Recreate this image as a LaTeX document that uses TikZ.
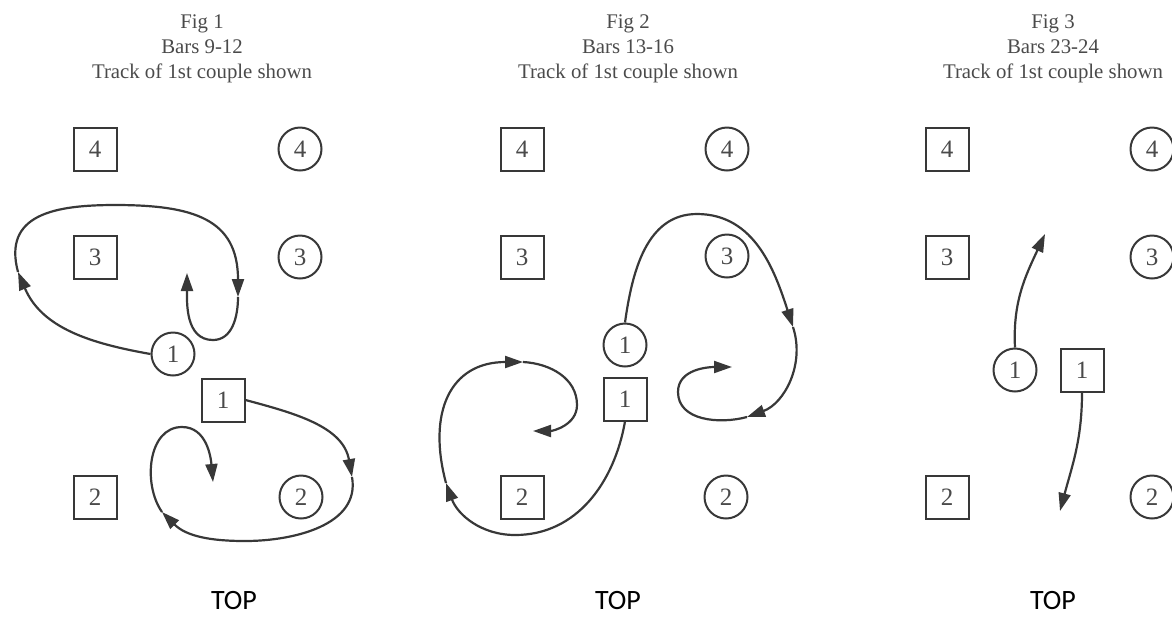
\documentclass[tikz,border=0pt]{standalone}
\usepackage{fontspec}
\setmainfont{Liberation Serif}
\newfontfamily\topfont{Carlito}
\usepackage{tikz}
\usetikzlibrary{arrows.meta,positioning}
\definecolor{ink}{HTML}{383838}
\definecolor{print}{HTML}{4A4A4A}
\tikzset{style={>={Triangle[length=9pt,width=6pt]}}}
\tikzset{man/.style={rectangle,fill=white,draw=ink,text=print,line width=1pt,minimum size=21.5pt,inner sep=0mm,font=\fontsize{12.5}{14}\selectfont}}
\tikzset{lady/.style={circle,     fill=white,draw=ink,text=print,line width=1pt,minimum size=21.5pt,inner sep=0mm,font=\fontsize{12.5}{14}\selectfont}}
\tikzset{caption/.style={align=center,text=print,font=\fontsize{10.4}{12.5}\selectfont}}
\tikzset{toplabel/.style={anchor=base,inner sep=0mm,text=black,font=\topfont\fontsize{14}{16}\selectfont}}
\tikzset{track/.style={draw=ink,line width=1.1pt,->}}

\begin{document}
\begin{tikzpicture}[x=0.5pt,y=0.5pt]
    \useasboundingbox (0,0) rectangle (1172,-618);

    \node[caption]  (t1)  at (202,-49)  {Fig 1\\Bars 9-12\\Track of 1st couple shown};
    \node[caption]  (t2)  at (628,-49)  {Fig 2\\Bars 13-16\\Track of 1st couple shown};
    \node[caption]  (t3)  at (1053,-49) {Fig 3\\Bars 23-24\\Track of 1st couple shown};

    \node[man]  (m4a) at (95,-149)  {4};
    \node[lady] (l4a) at (300,-149) {4};
    \node[man]  (m3a) at (95,-257)  {3};
    \node[lady] (l3a) at (300,-257) {3};
    \node[lady] (l1a) at (173,-354) {1};
    \node[man]  (m1a) at (223,-400) {1};
    \node[man]  (m2a) at (95,-497)  {2};
    \node[lady] (l2a) at (301,-497) {2};

    \node[man]  (m4b) at (522,-149) {4};
    \node[lady] (l4b) at (727,-149) {4};
    \node[man]  (m3b) at (522,-257) {3};
    \node[lady] (l3b) at (727,-256) {3};
    \node[lady] (l1b) at (625,-345) {1};
    \node[man]  (m1b) at (625,-399) {1};
    \node[man]  (m2b) at (522,-497) {2};
    \node[lady] (l2b) at (726,-497) {2};

    \node[man]  (m4c) at (947,-149)  {4};
    \node[lady] (l4c) at (1152,-149) {4};
    \node[man]  (m3c) at (947,-257)  {3};
    \node[lady] (l3c) at (1152,-257) {3};
    \node[lady] (l1c) at (1015,-370) {1};
    \node[man]  (m1c) at (1082,-370) {1};
    \node[man]  (m2c) at (947,-497)  {2};
    \node[lady] (l2c) at (1152,-497) {2};

    \coordinate (a1) at (18,-272);
    \coordinate (a2) at (115,-205);
    \coordinate (a3) at (238,-297);
    \coordinate (a4) at (213,-340);
    \coordinate (a5) at (187,-273);
    \draw[track] (l1a.west) to[out=170,in=-67] (a1);
    \draw[track] (a1) to[out=105,in=180,looseness=1.3] (a2) to[out=0,in=90,looseness=1.3] (a3);
    \draw[track] (a3) to[out=-90,in=0] (a4) to[out=180,in=-90] (a5);

    \coordinate (b1) at (352,-477);
    \coordinate (b2) at (245,-541);
    \coordinate (b3) at (162,-512);
    \coordinate (b4) at (182,-427);
    \coordinate (b5) at (213,-482);
    \draw[track] (m1a.east) to[out=-15,in=100] (b1);
    \draw[track] (b1) to[out=-80,in=0] (b2) to[out=180,in=-45] (b3);
    \draw[track] (b3) to[out=125,in=180] (b4) to[out=0,in=95] (b5);

    \coordinate (c1) at (697,-214);
    \coordinate (c2) at (793,-327);
    \coordinate (c3) at (747,-417);
    \coordinate (c4) at (678,-392);
    \coordinate (c5) at (732,-367);
    \draw[track] (l1b.north) to[out=82,in=180] (c1) to[out=0,in=108] (c2);
    \draw[track] (c2) to[out=-72,in=20] (c3);
    \draw[track] (c3) to[out=195,in=-90] (c4) to[out=90,in=180] (c5);

    \coordinate (d1) at (515,-535);
    \coordinate (d2) at (446,-483);
    \coordinate (d3) at (523,-362);
    \coordinate (d4) at (577,-405);
    \coordinate (d5) at (533,-431);
    \draw[track] (m1b.south) to[out=-100,in=0] (d1) to[out=180,in=-70] (d2);
    \draw[track] (d2) to[out=105,in=180,looseness=1.3] (d3);
    \draw[track] (d3) to[out=-3,in=90] (d4) to[out=-90,in=0] (d5);

    \coordinate (e1) at (1045,-234);
    \coordinate (e2) at (1060,-511);
    \draw[track] (l1c.north) to[out=93,in=-115] (e1);
    \draw[track] (m1c.south) to[out=-90,in=75] (e2);

    \node[toplabel] (top1) at (234,-609)  {TOP};
    \node[toplabel] (top2) at (618,-609)  {TOP};
    \node[toplabel] (top3) at (1053,-609) {TOP};
  \end{tikzpicture}
\end{document}
